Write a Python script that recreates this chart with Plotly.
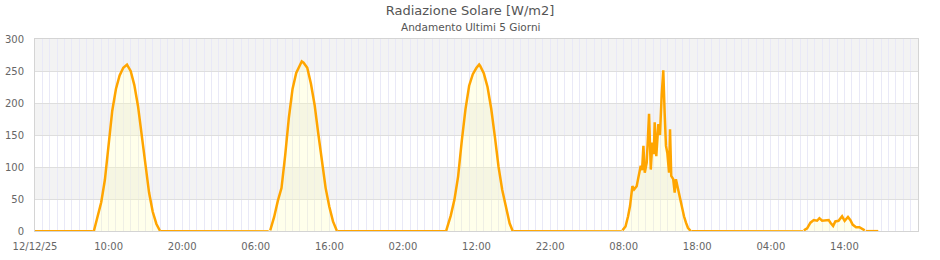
import plotly.graph_objects as go
import pandas as pd

# ---------------- data ----------------
title_text = "Radiazione Solare [W/m2]"
subtitle_text = "Andamento Ultimi 5 Giorni"

day1_date = "2025-12-12"
day1_times = ["08:00", "08:30", "09:00", "09:30", "10:00", "10:30", "11:00", "11:30", "12:00",
              "12:30", "13:00", "13:30", "14:00", "14:30", "15:00", "15:30", "16:00", "16:30", "17:00"]
day1_values = [0, 22, 45, 80, 134, 188, 222, 243, 255, 260, 250, 228, 195, 150, 100, 60, 30, 11, 0]

day2_date = "2025-12-13"
day2_times = ["07:58", "08:30", "09:00", "09:30", "10:00", "10:30", "11:00", "11:30", "12:00",
              "12:15", "12:30", "13:00", "13:30", "14:00", "14:30", "15:00", "15:30", "16:00", "16:30", "17:02"]
day2_values = [1, 22, 47, 67, 118, 177, 222, 247, 259, 265, 263, 255, 230, 197, 152, 113, 67, 38, 15, 0]

day3_date = "2025-12-14"
day3_times = ["07:52", "08:00", "08:30", "09:00", "09:30", "10:00", "10:30", "11:00", "11:30", "12:00",
              "12:22", "12:30", "13:00", "13:30", "14:00", "14:30", "15:00", "15:30", "16:00", "16:30", "16:55"]
day3_values = [0, 5, 24, 49, 85, 141, 190, 227, 245, 255, 260, 258, 246, 225, 191, 147, 100, 64, 35, 12, 0]

day4_date = "2025-12-15"
day4_times = ["07:50", "08:15", "08:36", "08:52", "09:11", "09:25", "09:46", "10:05", "10:19", "10:30",
              "10:41", "10:52", "11:08", "11:27", "11:41", "11:54", "12:05", "12:13", "12:26", "12:43", "12:56",
              "13:10", "13:23", "13:34", "13:45", "13:56", "14:10", "14:18", "14:28", "14:44", "14:56",
              "15:06", "15:23", "15:39", "15:55", "16:12", "16:28", "16:44", "17:06"]
day4_values = [1, 7, 23, 39, 70, 65, 70, 91, 102, 95,
               133, 91, 107, 183, 96, 138, 120, 170, 117, 167, 150,
               212, 251, 185, 133, 122, 91, 159, 86, 81, 60,
               81, 65, 54, 39, 23, 13, 5, 0]

day5_date = "2025-12-16"
day5_times = ["08:29", "08:56", "09:23", "09:50", "10:17", "10:36", "10:58", "11:25", "11:52", "12:06",
              "12:28", "12:46", "13:12", "13:41", "14:02", "14:29", "14:49", "15:07", "15:35", "16:02",
              "16:24", "16:46"]
day5_values = [1, 4, 13, 17, 16, 20, 16, 17, 17, 13,
               8, 15, 16, 23, 16, 22, 17, 10, 6, 6,
               4, 1]

night_starts = ["2025-12-12 00:00", "2025-12-12 17:06", "2025-12-13 17:08", "2025-12-14 17:00",
                "2025-12-15 17:12", "2025-12-16 16:54"]
night_ends = ["2025-12-12 07:52", "2025-12-13 07:45", "2025-12-14 07:48", "2025-12-15 07:45",
              "2025-12-16 08:24", "2025-12-16 18:36"]

x_start = "2025-12-12 00:00"
x_end = "2025-12-17 00:00"
x_tick_labels = ["12/12/25", "10:00", "20:00", "06:00", "16:00", "02:00",
                 "12:00", "22:00", "08:00", "18:00", "04:00", "14:00"]
y_tick_values = [0, 50, 100, 150, 200, 250, 300]
y_shaded_bands = [(50, 100), (150, 200), (250, 300)]

# ---------------- build ----------------
days = [(day1_date, day1_times, day1_values), (day2_date, day2_times, day2_values),
        (day3_date, day3_times, day3_values), (day4_date, day4_times, day4_values),
        (day5_date, day5_times, day5_values)]

day_x, day_y = [], []
for d, ts, vs in days:
    day_x += [f"{d} {t}" for t in ts] + [None]
    day_y += list(vs) + [None]

night_x, night_y = [], []
for s, e in zip(night_starts, night_ends):
    night_x += [s, e, None]
    night_y += [0, 0, None]

orange = "#FFA500"
font_family = "DejaVu Sans"

fig = go.Figure()
fig.add_trace(go.Scatter(x=night_x, y=night_y, mode="lines", connectgaps=False,
                         line=dict(color=orange, width=2.2), hoverinfo="skip", showlegend=False))
fig.add_trace(go.Scatter(x=day_x, y=day_y, mode="lines", connectgaps=False,
                         fill="tozeroy", fillcolor="rgba(255,255,190,0.3)",
                         line=dict(color=orange, width=2.5), showlegend=False))

for y0, y1 in y_shaded_bands:
    fig.add_shape(type="rect", xref="paper", x0=0, x1=1, yref="y", y0=y0, y1=y1,
                  fillcolor="#f3f3f3", line=dict(width=0), layer="below")

tick_positions = pd.date_range(x_start, periods=len(x_tick_labels), freq="10h")

W, H = 940, 260
ml, mr, mt, mb = 35, 22, 39, 29
pw = W - ml - mr

fig.update_layout(
    width=W, height=H,
    margin=dict(l=ml, r=mr, t=mt, b=mb, pad=0, autoexpand=False),
    paper_bgcolor="white", plot_bgcolor="white",
    font=dict(family=font_family, size=10, color="#666666"),
    title=dict(text=title_text, x=0.5, xref="container", xanchor="center",
               y=1 - 10 / H, yref="container", yanchor="middle",
               font=dict(family=font_family, size=13, color="#555555")),
    showlegend=False,
    xaxis=dict(
        type="date", range=[x_start, x_end], automargin=False,
        tickmode="array", tickvals=tick_positions, ticktext=x_tick_labels,
        showgrid=True, gridcolor="#e9e9f7", gridwidth=1,
        minor=dict(dtick=3600000, tick0=x_start, showgrid=True, gridcolor="#e9e9f7", gridwidth=1),
        showline=True, linecolor="#d4d4d4", linewidth=1, mirror=True,
        ticks="", ticklabelstandoff=6, zeroline=False,
        tickfont=dict(family=font_family, size=10, color="#666666"),
    ),
    yaxis=dict(
        range=[0, 300], tickmode="array", tickvals=y_tick_values, automargin=False,
        showgrid=True, gridcolor="#dedede", gridwidth=1,
        showline=True, linecolor="#d4d4d4", linewidth=1, mirror=True,
        ticks="", ticklabelstandoff=8, zeroline=False,
        tickfont=dict(family=font_family, size=10, color="#666666"),
    ),
)

fig.add_annotation(text=subtitle_text, xref="paper", x=(W / 2 - ml) / pw, xanchor="center",
                   yref="paper", y=1 + (mt - 27) / (H - mt - mb), yanchor="middle",
                   showarrow=False, font=dict(family=font_family, size=10.5, color="#555555"))

fig.write_html("out.html")
